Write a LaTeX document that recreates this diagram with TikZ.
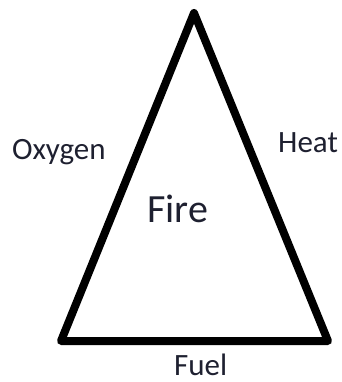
\documentclass[tikz,border=0pt]{standalone}
\usepackage{fontspec}
\setmainfont{Carlito}
\definecolor{ink}{HTML}{1E2030}
\begin{document}
\begin{tikzpicture}[x=1pt,y=-1pt,
  edge/.style={line width=8pt,line join=round,line cap=round},
  lbl/.style={anchor=base west,inner sep=0pt,font=\fontsize{31}{31}\selectfont,text=ink}]
\useasboundingbox (0,0) rectangle (341,382);
\coordinate (apex) at (194,13);
\coordinate (bl) at (61,341);
\coordinate (br) at (328,341);
\draw[edge] (apex) -- (br) -- (bl) -- cycle;
\node[lbl] (oxygen) at (12,160) {Oxygen};
\node[lbl] (heat) at (278,152) {Heat};
\node[lbl,font=\fontsize{40}{40}\selectfont] (fire) at (147,222) {Fire};
\node[lbl] (fuel) at (174,375) {Fuel};
\end{tikzpicture}
\end{document}
